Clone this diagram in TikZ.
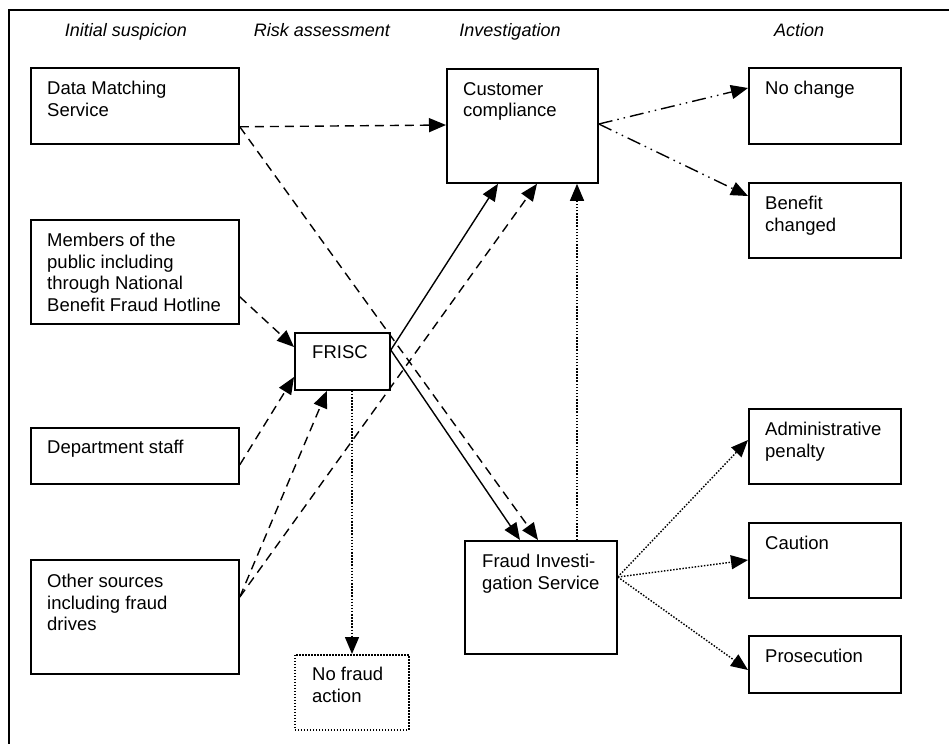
\documentclass[tikz,border=0pt]{standalone}
\usepackage{fontspec}
\setmainfont{Liberation Sans}
\usetikzlibrary{arrows.meta}
\begin{document}
\begin{tikzpicture}[x=1pt,y=-1pt,
  box/.style={draw, line width=1.8pt, inner sep=0pt, anchor=north west},
  dotbox/.style={box, line width=1.5pt, dash pattern=on 1.5pt off 1.5pt},
  txt/.style={anchor=north west, inner sep=0pt, align=left, font=\fontsize{18.5}{21.5}\selectfont},
  head/.style={anchor=base, inner sep=0pt, font=\fontsize{18}{21}\selectfont\itshape},
  conn/.style={line width=1.4pt, -{Triangle[length=17pt,width=14pt]}},
  dsh/.style={conn, dash pattern=on 9pt off 6pt},
  dtt/.style={conn, dash pattern=on 1.5pt off 1.6pt},
  ddd/.style={conn, dash pattern=on 14pt off 5pt on 1.5pt off 5pt on 1.5pt off 5pt}]
\useasboundingbox (0,0) rectangle (949,744);
\draw[line width=2pt] (949,10) -- (9,10) -- (9,744);
% headers
\node[head] (h1) at (126,36) {Initial suspicion};
\node[head] (h2) at (322,36) {Risk assessment};
\node[head] (h3) at (510,36) {Investigation};
\node[head] (h4) at (799,36) {Action};
% boxes
\node[box, minimum width=208pt, minimum height=76pt] (dms) at (30,67) {};
\node[box, minimum width=208pt, minimum height=104pt] (mem) at (30,219) {};
\node[box, minimum width=208pt, minimum height=56pt] (dept) at (30,427) {};
\node[box, minimum width=208pt, minimum height=114pt] (oth) at (30,559) {};
\node[box, minimum width=95pt, minimum height=57pt] (frisc) at (294,332) {};
\node[box, minimum width=151pt, minimum height=114pt] (cc) at (446,68) {};
\node[box, minimum width=152pt, minimum height=113pt] (fis) at (464,540) {};
\node[dotbox, minimum width=114pt, minimum height=75pt] (nfa) at (294,654) {};
\node[box, minimum width=152pt, minimum height=76pt] (nch) at (748,67) {};
\node[box, minimum width=152pt, minimum height=75pt] (ben) at (748,182) {};
\node[box, minimum width=152pt, minimum height=75pt] (adm) at (748,408) {};
\node[box, minimum width=152pt, minimum height=75pt] (cau) at (748,522) {};
\node[box, minimum width=152pt, minimum height=57pt] (pro) at (748,635) {};
% texts
\node[txt] (tdms) at (47,81) {Data Matching\\Service};
\node[txt] (tmem) at (47,233) {Members of the\\public including\\through National\\Benefit Fraud Hotline};
\node[txt] (tdept) at (47,440) {Department staff};
\node[txt] (toth) at (47,574) {Other sources\\including fraud\\drives};
\node[txt] (tfrisc) at (312,345) {FRISC};
\node[txt] (tcc) at (463,82) {Customer\\compliance};
\node[txt] (tfis) at (482,554) {Fraud Investi-\\gation Service};
\node[txt] (tnfa) at (312,667) {No fraud\\action};
\node[txt] (tnch) at (765,81) {No change};
\node[txt] (tben) at (765,196) {Benefit\\changed};
\node[txt] (tadm) at (765,422) {Administrative\\penalty};
\node[txt] (tcau) at (765,536) {Caution};
\node[txt] (tpro) at (765,649) {Prosecution};
% connectors
\draw[dsh] ([yshift=18pt]dms.south east) -- ([yshift=-57pt]cc.north west);
\draw[dsh] ([yshift=18pt]dms.south east) -- ([xshift=74pt]fis.north west);
\draw[dsh] ([yshift=28pt]mem.south east) -- ([yshift=-15pt]frisc.north west);
\draw[dsh] ([yshift=20pt]dept.south east) -- ([yshift=-45pt]frisc.north west);
\draw[dsh] ([yshift=-38pt]oth.north east) -- ([xshift=33pt]frisc.south west);
\draw[dsh] ([yshift=-38pt]oth.north east) -- ([xshift=91pt]cc.south west);
\draw[conn] ([yshift=-18pt]frisc.north east) -- ([xshift=52pt]cc.south west);
\draw[conn] ([yshift=-18pt]frisc.north east) -- ([xshift=56pt]fis.north west);
\draw[dtt] ([xshift=58pt]frisc.south west) -- ([xshift=58pt]nfa.north west);
\draw[dtt] ([xshift=113pt]fis.north west) -- ([xshift=131pt]cc.south west);
\draw[ddd] ([yshift=-56pt]cc.north east) -- ([yshift=-21pt]nch.north west);
\draw[ddd] ([yshift=-56pt]cc.north east) -- ([yshift=-14pt]ben.north west);
\draw[dtt] ([yshift=-37pt]fis.north east) -- ([yshift=-32pt]adm.north west);
\draw[dtt] ([yshift=-37pt]fis.north east) -- ([yshift=-38pt]cau.north west);
\draw[dtt] ([yshift=-37pt]fis.north east) -- ([yshift=-35pt]pro.north west);
\end{tikzpicture}
\end{document}
